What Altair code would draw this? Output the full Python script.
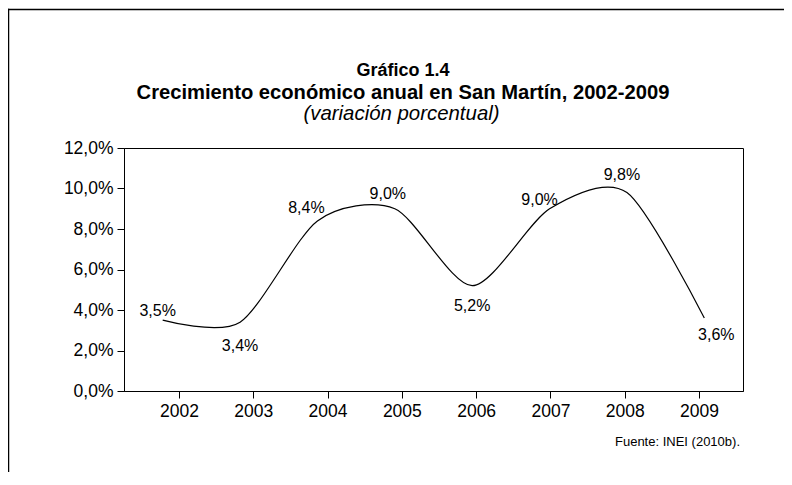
import altair as alt
import pandas as pd

# ---- data ----
years = ["2002", "2003", "2004", "2005", "2006", "2007", "2008", "2009"]
growth = [3.5, 3.4, 8.4, 9.0, 5.2, 9.0, 9.8, 3.6]
labels = ["3,5%", "3,4%", "8,4%", "9,0%", "5,2%", "9,0%", "9,8%", "3,6%"]
y_ticks = [0, 2, 4, 6, 8, 10, 12]
x_ticks = [2002, 2003, 2004, 2005, 2006, 2007, 2008, 2009]

TITLE_1 = "Gráfico 1.4"
TITLE_2 = "Crecimiento económico anual en San Martín, 2002-2009"
TITLE_3 = "(variación porcentual)"
SOURCE = "Fuente: INEI (2010b)."

# ---- style ----
FONT = "Liberation Sans"
W, H = 619, 243
# label placement (dx, dy) per year, relative to its point
label_place = {
    "2002": (-5, -9), "2003": (0, 24), "2004": (-11, -13), "2005": (-7, -15),
    "2006": (0, 20), "2007": (-10, -9), "2008": (-5, -18), "2009": (12, 17),
}

df = pd.DataFrame({
    "year": years,
    "year_num": [int(y) for y in years],
    "growth": growth,
    "label": labels,
})
one = pd.DataFrame({"t": [TITLE_1], "t2": [TITLE_2], "t3": [TITLE_3], "s": [SOURCE]})

yenc = alt.Y(
    "growth:Q",
    scale=alt.Scale(domain=[0, 12], nice=False),
    axis=alt.Axis(
        values=y_ticks,
        labelExpr="replace(format(datum.value, '.1f'), '.', ',') + '%'",
        title=None, grid=False, tickSize=7, labelPadding=4,
        domainColor="black", tickColor="black", labelColor="black",
        labelFontSize=17.5, labelFont=FONT, domainWidth=1, tickWidth=1,
    ),
)
xcat = alt.X("year:O", scale=alt.Scale(type="point", padding=0.5, domain=years), axis=None)

base = alt.Chart(df)

line = base.mark_line(interpolate="cardinal", tension=0.2, color="black", strokeWidth=1.2).encode(x=xcat, y=yenc)

texts = []
for y in years:
    dx, dy = label_place[y]
    texts.append(
        base.transform_filter(alt.datum.year == y)
        .mark_text(dx=dx, dy=dy, font=FONT, fontSize=16, color="black", baseline="middle", align="center")
        .encode(x=xcat, y=yenc, text="label:N")
    )

axis_layer = base.mark_point(opacity=0).encode(
    x=alt.X(
        "year_num:Q",
        scale=alt.Scale(domain=[2001.259, 2009.593], nice=False, zero=False),
        axis=alt.Axis(
            values=x_ticks, format="d", title=None, grid=False, tickSize=7, labelPadding=4,
            domainColor="black", tickColor="black", labelColor="black",
            labelFontSize=17.5, labelFont=FONT, domainWidth=1, tickWidth=1,
        ),
    ),
    y=yenc,
)

oc = alt.Chart(one)
# outer page frame (top and left edges), drawn as thin filled bars
frame_top = oc.mark_rect(color="black", strokeWidth=0).encode(
    x=alt.value(-116.25), x2=alt.value(700), y=alt.value(-139.25), y2=alt.value(-137.75)
)
frame_left = oc.mark_rect(color="black", strokeWidth=0).encode(
    x=alt.value(-116.25), x2=alt.value(-114.75), y=alt.value(-139.25), y2=alt.value(400)
)
t1 = oc.mark_text(font=FONT, fontSize=18, fontWeight="bold", color="black", baseline="middle").encode(
    x=alt.value(279), y=alt.value(-77.5), text="t:N")
t2 = oc.mark_text(font=FONT, fontSize=20.2, fontWeight="bold", color="black", baseline="middle").encode(
    x=alt.value(279), y=alt.value(-55.5), text="t2:N")
t3 = oc.mark_text(font=FONT, fontSize=20.4, fontStyle="italic", color="black", baseline="middle").encode(
    x=alt.value(277.5), y=alt.value(-34), text="t3:N")
src = oc.mark_text(font=FONT, fontSize=13, color="black", baseline="middle", align="right").encode(
    x=alt.value(616), y=alt.value(294), text="s:N")

chart = (
    alt.layer(frame_top, frame_left, axis_layer, line, *texts, t1, t2, t3, src)
    .resolve_scale(x="independent")
    .properties(
        width=W, height=H,
        autosize=alt.AutoSizeParams(type="none"),
        padding={"left": 116, "top": 140, "right": 41, "bottom": 81},
        background="white",
    )
    .configure_view(stroke="black", strokeWidth=1)
)

chart.save("out.html", embed_options={"renderer": "svg", "actions": False})
